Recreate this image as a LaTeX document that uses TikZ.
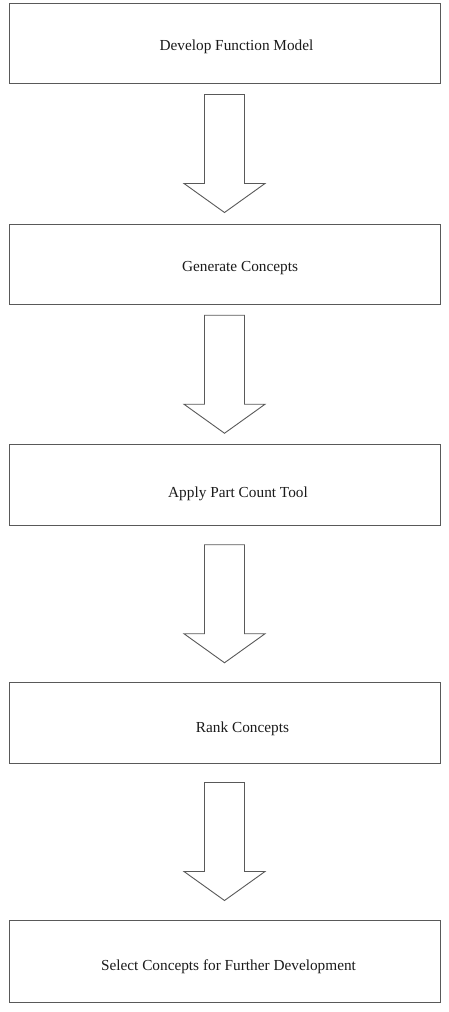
\documentclass[tikz,border=0pt]{standalone}
\usepackage{fontspec}
\setmainfont{Liberation Serif}
\usetikzlibrary{calc}
\definecolor{edge}{HTML}{595959}
\definecolor{ink}{HTML}{1A1A1A}

\begin{document}
\begin{tikzpicture}[
  x=1pt, y=-1pt,
  font=\fontsize{15.3}{18}\selectfont,
  stepbox/.style={draw=edge, line width=0.9pt, minimum width=431pt, inner sep=0pt},
  lbl/.style={text=ink, anchor=base, inner sep=0pt},
  blk/.style={draw=edge, line width=0.9pt, fill=white, line join=miter},
]
\useasboundingbox (0,0) rectangle (448,1012);

% Boxes
\node[stepbox, minimum height=80pt] (b1) at (224.5,43) {};
\node[stepbox, minimum height=80pt] (b2) at (224.5,264) {};
\node[stepbox, minimum height=81pt] (b3) at (224.5,485) {};
\node[stepbox, minimum height=81pt] (b4) at (224.5,722.5) {};
\node[stepbox, minimum height=82pt] (b5) at (224.5,961) {};

% Labels
\node[lbl] (t1) at (236.5,50) {Develop Function Model};
\node[lbl] (t2) at (240,271.5) {Generate Concepts};
\node[lbl] (t3) at (238,497.5) {Apply Part Count Tool};
\node[lbl] (t4) at (242.5,732) {Rank Concepts};
\node[lbl] (t5) at (228.5,970) {Select Concepts for Further Development};

% Block arrows between boxes
\foreach \i/\j in {1/2,2/3,3/4,4/5}{
  \draw[blk] ($(b\i.south)!0.5!(b\j.north)$) ++(-20,-59) -- ++(40,0) -- ++(0,89)
    -- ++(20.5,0) -- ++(-40.5,29) -- ++(-40.5,-29) -- ++(20.5,0) -- cycle;
}

\end{tikzpicture}
\end{document}
